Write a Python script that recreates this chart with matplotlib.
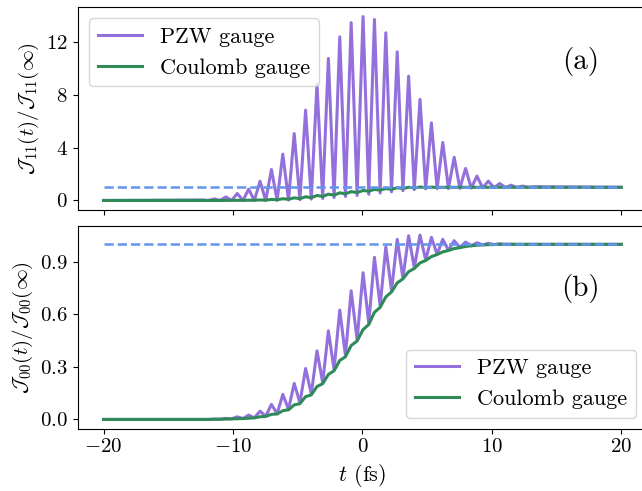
import numpy as np
import matplotlib
matplotlib.use("Agg")
import matplotlib.pyplot as plt

plt.rcParams['font.family'] = 'serif'
plt.rcParams['font.serif'] = ['cmr10']
plt.rcParams['mathtext.fontset'] = 'cm'
plt.rcParams['axes.formatter.use_mathtext'] = True
plt.rcParams['axes.unicode_minus'] = True

# times of the PZW maxima and minima (fs)
t_peak = [-12.32, -11.44, -10.55, -9.67, -8.79, -7.91, -7.03, -6.15, -5.27, -4.39,
          -3.51, -2.63, -1.75, -0.87, 0.05, 0.93, 1.81, 2.69, 3.57, 4.45,
          5.33, 6.21, 7.09, 7.97, 8.85, 9.73, 10.61, 11.49, 12.37, 13.25]
t_trough = [-11.88, -11.00, -10.11, -9.23, -8.35, -7.47, -6.59, -5.71, -4.83, -3.95,
            -3.07, -2.19, -1.31, -0.41, 0.49, 1.37, 2.25, 3.13, 4.01, 4.89,
            5.77, 6.65, 7.53, 8.41, 9.29, 10.17, 11.05, 11.93, 12.81]

# panel (a): J11(t)/J11(inf)
pzw11_peak = [0.04, 0.12, 0.27, 0.53, 0.86, 1.46, 2.35, 3.52, 5.08, 6.86,
              8.85, 10.78, 12.42, 13.50, 13.96, 13.74, 12.73, 11.28, 9.44, 7.67,
              5.89, 4.40, 3.28, 2.43, 1.85, 1.47, 1.29, 1.16, 1.09, 1.04]
pzw11_trough = [0.0, 0.0, 0.0, 0.0, 0.0, 0.0, 0.01, 0.03, 0.06, 0.10,
                0.15, 0.22, 0.30, 0.38, 0.47, 0.56, 0.65, 0.74, 0.82, 0.88,
                0.90, 0.90, 0.92, 0.94, 0.96, 0.97, 0.98, 0.99, 1.0]
coul11_peak = [0.0, 0.0, 0.005, 0.01, 0.02, 0.04, 0.08, 0.13, 0.20, 0.28,
               0.38, 0.48, 0.58, 0.67, 0.76, 0.84, 0.90, 0.96, 1.00, 1.02,
               1.01, 1.00, 1.00, 1.00, 1.00, 1.00, 1.00, 1.00, 1.00, 1.00]
coul11_trough = [0.0, 0.0, 0.005, 0.01, 0.015, 0.025, 0.05, 0.09, 0.14, 0.21,
                 0.30, 0.40, 0.50, 0.60, 0.70, 0.78, 0.85, 0.91, 0.95, 0.98,
                 0.99, 1.00, 1.00, 1.00, 1.00, 1.00, 1.00, 1.00, 1.00]

# panel (b): J00(t)/J00(inf)
pzw00_peak = [0.0, 0.002, 0.006, 0.015, 0.025, 0.047, 0.086, 0.143, 0.206, 0.291,
              0.392, 0.506, 0.625, 0.735, 0.838, 0.926, 0.986, 1.029, 1.049, 1.053,
              1.040, 1.029, 1.021, 1.013, 1.009, 1.006, 1.003, 1.001, 1.0, 1.0]
pzw00_trough = [0.0, 0.001, 0.003, 0.005, 0.009, 0.018, 0.033, 0.058, 0.095, 0.145,
                0.210, 0.285, 0.365, 0.455, 0.550, 0.648, 0.735, 0.808, 0.866, 0.910,
                0.943, 0.966, 0.982, 0.992, 0.997, 0.999, 1.0, 1.0, 1.0]
coul00_peak = [0.0, 0.001, 0.002, 0.004, 0.007, 0.015, 0.029, 0.050, 0.083, 0.130,
               0.188, 0.257, 0.337, 0.422, 0.513, 0.612, 0.700, 0.780, 0.844, 0.894,
               0.930, 0.957, 0.976, 0.988, 0.995, 0.998, 1.0, 1.0, 1.0, 1.0]
coul00_trough = [0.0, 0.001, 0.003, 0.005, 0.009, 0.017, 0.031, 0.055, 0.090, 0.140,
                 0.204, 0.278, 0.358, 0.448, 0.542, 0.640, 0.728, 0.803, 0.862, 0.908,
                 0.942, 0.965, 0.981, 0.992, 0.997, 0.999, 1.0, 1.0, 1.0]

t_start, t_end = -20, 20


def series(peak, trough, v0, v1):
    t = np.concatenate([[t_start], t_peak, t_trough, [t_end]])
    y = np.concatenate([[v0], peak, trough, [v1]])
    order = np.argsort(t)
    return t[order], y[order]


purple = '#9370DB'
green = '#2E8B57'
blue = '#6495ED'

fig = plt.figure(figsize=(6.42, 4.91), dpi=100)
ax1 = fig.add_axes([0.121, 0.573, 0.887, 0.412])
ax2 = fig.add_axes([0.121, 0.127, 0.887, 0.413], sharex=ax1)

t, y = series(pzw11_peak, pzw11_trough, 0.0, 1.0)
ax1.plot(t, y, color=purple, lw=2.2, label='PZW gauge', solid_joinstyle='round')
t, y = series(coul11_peak, coul11_trough, 0.0, 1.0)
ax1.plot(t, y, color=green, lw=2.2, label='Coulomb gauge', solid_joinstyle='round')
ax1.plot([t_start, t_end], [1, 1], '--', color=blue, lw=1.8)
ax1.set_yticks([0, 4, 8, 12])
ax1.set_ylabel(r'$\mathcal{J}_{11}(t)/\mathcal{J}_{11}(\infty)$', fontsize=15)
ax1.legend(loc='upper left', fontsize=16)
ax1.text(0.883, 0.73, '(a)', transform=ax1.transAxes, fontsize=21, ha='center', va='center')
ax1.tick_params(labelbottom=False, labelsize=15)

t, y = series(pzw00_peak, pzw00_trough, 0.0, 1.0)
ax2.plot(t, y, color=purple, lw=2.2, label='PZW gauge', solid_joinstyle='round')
t, y = series(coul00_peak, coul00_trough, 0.0, 1.0)
ax2.plot(t, y, color=green, lw=2.2, label='Coulomb gauge', solid_joinstyle='round')
ax2.plot([t_start, t_end], [1, 1], '--', color=blue, lw=1.8)
ax2.set_yticks([0.0, 0.3, 0.6, 0.9])
ax2.set_ylabel(r'$\mathcal{J}_{00}(t)/\mathcal{J}_{00}(\infty)$', fontsize=15)
ax2.set_xlabel(r'$t$ (fs)', fontsize=16)
ax2.set_xticks([-20, -10, 0, 10, 20])
ax2.legend(loc='lower right', fontsize=16)
ax2.text(0.883, 0.69, '(b)', transform=ax2.transAxes, fontsize=21, ha='center', va='center')
ax2.tick_params(labelsize=15)

fig.savefig('out.png', dpi=100)
